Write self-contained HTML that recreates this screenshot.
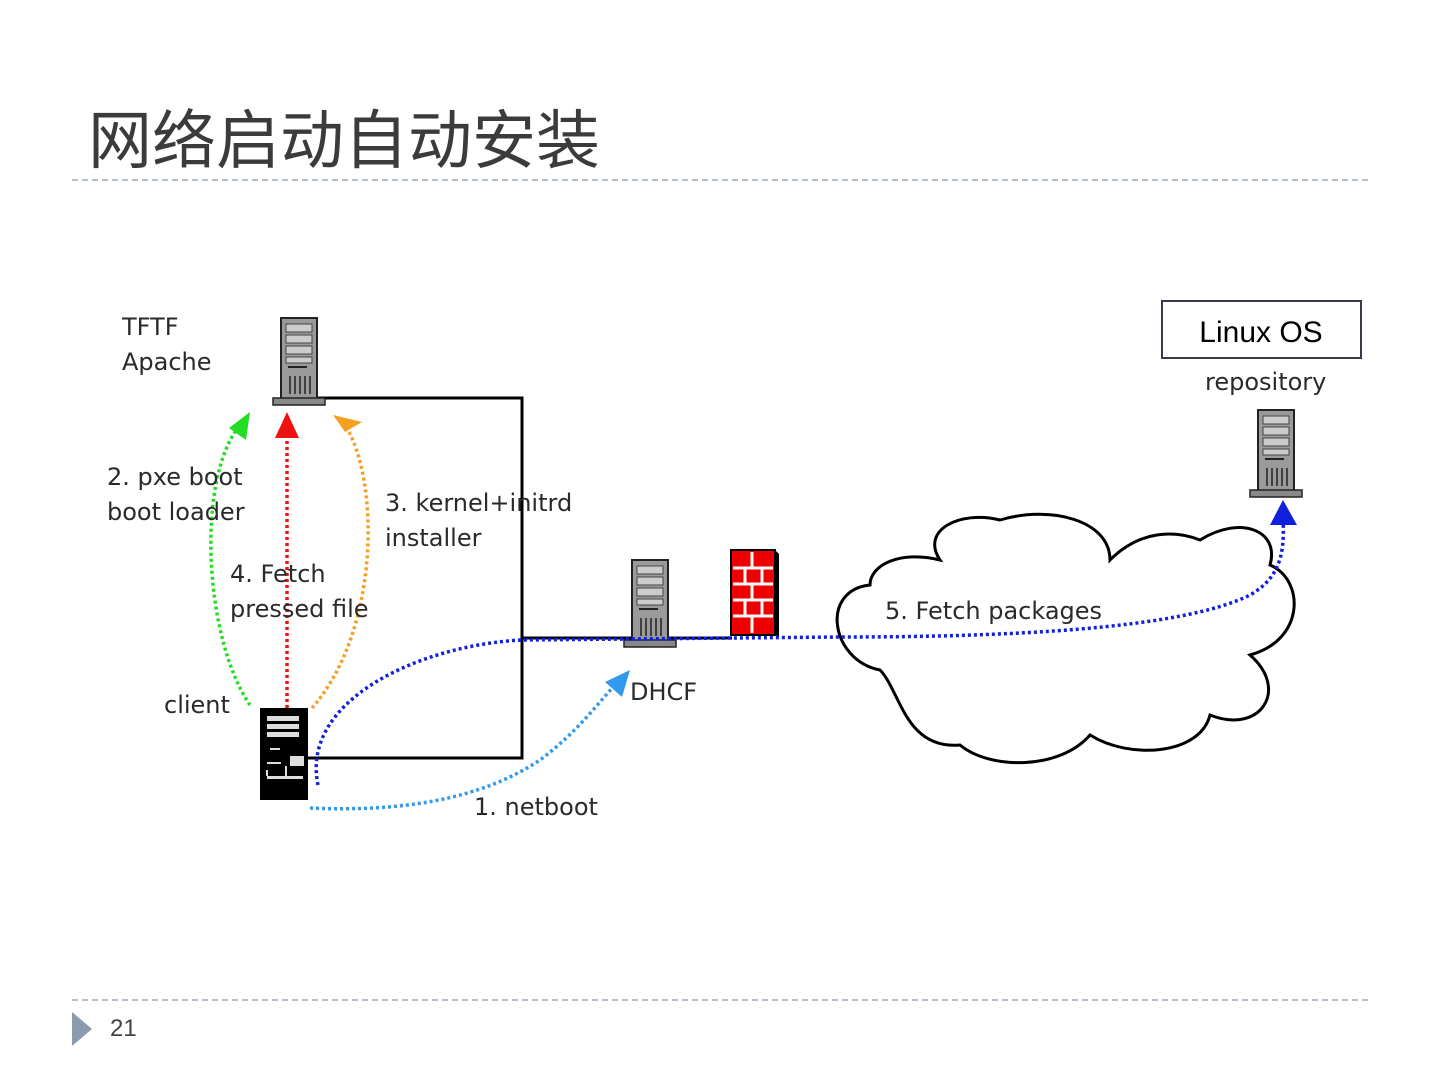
<!DOCTYPE html>
<html><head><meta charset="utf-8"><style>
body{margin:0;width:1440px;height:1080px;background:#fff;overflow:hidden}
svg{display:block}
</style></head><body>
<svg width="1440" height="1080" viewBox="0 0 1440 1080" xmlns="http://www.w3.org/2000/svg">
<defs>
<g id="srv">
<rect x="0" y="0" width="36" height="82" fill="#9a9a9a" stroke="#222" stroke-width="2"/>
<rect x="5" y="6" width="26" height="8" fill="#ccc" stroke="#444"/>
<rect x="5" y="17" width="26" height="8" fill="#ccc" stroke="#444"/>
<rect x="5" y="28" width="26" height="8" fill="#ccc" stroke="#444"/>
<rect x="5" y="39" width="26" height="6" fill="#ccc" stroke="#444"/>
<line x1="7" y1="49" x2="26" y2="49" stroke="#222" stroke-width="2"/>
<g stroke="#222" stroke-width="1.5"><line x1="9" y1="58" x2="9" y2="76"/><line x1="14" y1="58" x2="14" y2="76"/><line x1="19" y1="58" x2="19" y2="76"/><line x1="24" y1="58" x2="24" y2="76"/><line x1="29" y1="58" x2="29" y2="76"/></g>
<rect x="-8" y="80" width="52" height="7" fill="#888" stroke="#222" stroke-width="1.5"/>
</g>
</defs>
<text x="88" y="163" font-family="'Liberation Sans','Noto Sans CJK SC',sans-serif" font-size="64" fill="#3b3b3b">网络启动自动安装</text>
<line x1="72" y1="180" x2="1368" y2="180" stroke="#9aaabb" stroke-width="1.5" stroke-dasharray="6,4"/>
<line x1="72" y1="1000" x2="1368" y2="1000" stroke="#9aaabb" stroke-width="1.5" stroke-dasharray="6,4"/>
<polygon points="72,1012 92,1029 72,1046" fill="#8a9bb0"/>
<text x="110" y="1036" font-family="'Liberation Sans',sans-serif" font-size="24" fill="#444">21</text>

<polyline points="316,398 522,398 522,758 308,758" fill="none" stroke="#000" stroke-width="3"/>
<line x1="522" y1="638" x2="732" y2="638" stroke="#000" stroke-width="3"/>

<path d="M870,585 C820,590 830,660 880,670 C900,690 905,750 960,745 C990,770 1060,770 1090,735 C1130,760 1200,755 1210,715 C1260,735 1290,690 1250,655 C1305,640 1305,580 1270,565 C1280,530 1240,515 1200,540 C1175,530 1140,530 1110,560 C1110,520 1050,505 1000,520 C960,510 920,530 940,560 C900,550 870,565 870,585 Z" fill="#fff" stroke="#000" stroke-width="3"/>

<use href="#srv" x="281" y="318"/>
<use href="#srv" x="632" y="560"/>
<use href="#srv" x="1258" y="410"/>

<rect x="731" y="550" width="44" height="85" fill="#e00" stroke="#000" stroke-width="2"/>
<polygon points="775,550 779,554 779,637 775,635" fill="#000"/>
<g stroke="#fff" stroke-width="3">
<line x1="733" y1="568" x2="773" y2="568"/><line x1="733" y1="584" x2="773" y2="584"/><line x1="733" y1="600" x2="773" y2="600"/><line x1="733" y1="616" x2="773" y2="616"/>
<line x1="752" y1="552" x2="752" y2="568"/><line x1="745" y1="568" x2="745" y2="584"/><line x1="762" y1="568" x2="762" y2="584"/><line x1="752" y1="584" x2="752" y2="600"/><line x1="745" y1="600" x2="745" y2="616"/><line x1="762" y1="600" x2="762" y2="616"/><line x1="752" y1="616" x2="752" y2="633"/>
</g>

<rect x="260" y="708" width="48" height="92" fill="#000"/>
<g fill="#ddd"><rect x="267" y="716" width="32" height="5"/><rect x="267" y="724" width="32" height="5"/><rect x="267" y="732" width="32" height="5"/><rect x="270" y="748" width="10" height="2"/><rect x="267" y="762" width="14" height="2"/><rect x="290" y="756" width="14" height="10"/><rect x="267" y="776" width="36" height="3"/><rect x="266" y="770" width="2" height="6"/><rect x="285" y="766" width="2" height="10"/></g>

<g fill="none" stroke-width="3.5" stroke-dasharray="3,3">
<path d="M250,705 C205,640 195,480 240,425" stroke="#22dd22"/>
<path d="M287,708 L287,428" stroke="#ee1111"/>
<path d="M312,708 C380,630 380,480 345,425" stroke="#f5a020"/>
<path d="M318,785 C300,700 420,645 522,640 L840,637 C1000,637 1180,630 1250,595 C1285,575 1284,545 1283,515" stroke="#1020dd"/>
<path d="M310,808 C400,812 480,800 540,760 C580,730 600,700 618,682" stroke="#3399ee"/>
</g>
<polygon points="229,428 250,412 246,440" fill="#22dd22"/>
<polygon points="275,438 287,412 299,438" fill="#ee1111"/>
<polygon points="333,415 362,422 345,432" fill="#f5a020"/>
<polygon points="1270,525 1283,500 1297,525" fill="#1020dd"/>
<polygon points="605,682 630,670 622,697" fill="#3399ee"/>

<g font-family="'DejaVu Sans','Liberation Sans',sans-serif" font-size="24" fill="#2a2a2a">
<text x="122" y="335">TFTF</text>
<text x="122" y="370">Apache</text>
<text x="107" y="485">2. pxe boot</text>
<text x="107" y="520">boot loader</text>
<text x="385" y="511">3. kernel+initrd</text>
<text x="385" y="546">installer</text>
<text x="230" y="582">4. Fetch</text>
<text x="230" y="617">pressed file</text>
<text x="164" y="713">client</text>
<text x="630" y="700">DHCF</text>
<text x="474" y="815">1. netboot</text>
<text x="885" y="619">5. Fetch packages</text>
<text x="1205" y="390">repository</text>
</g>
<rect x="1162" y="301" width="199" height="57" fill="#fff" stroke="#3a3a4a" stroke-width="2"/>
<text x="1261" y="342" text-anchor="middle" font-family="'Liberation Sans',sans-serif" font-size="30" fill="#000">Linux OS</text>
</svg>
</body></html>
